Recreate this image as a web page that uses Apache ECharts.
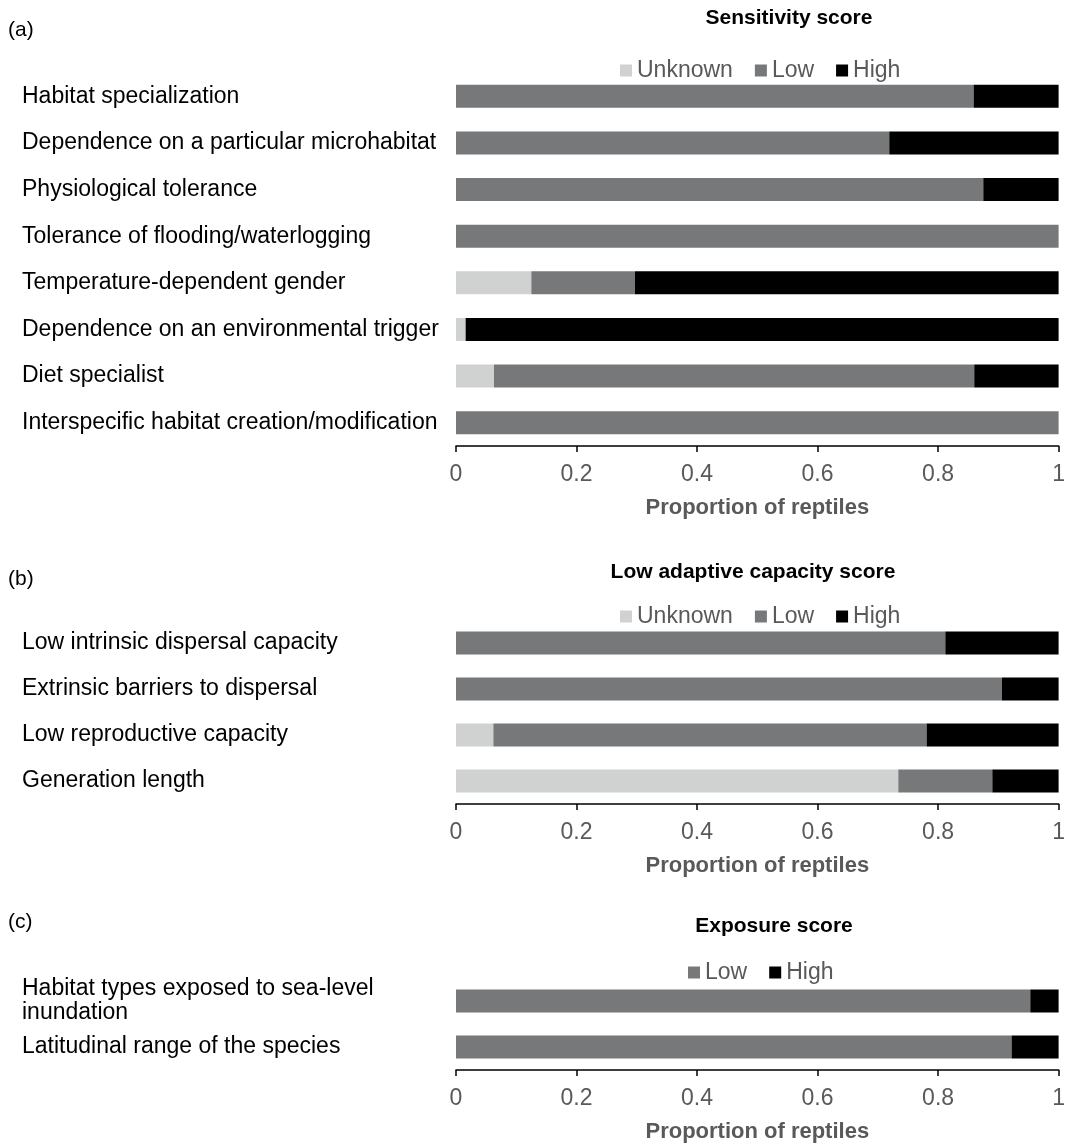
<!DOCTYPE html>
<html>
	<head>
		<meta charset="utf-8">
		<title>Reptile scores</title>
		<script src="https://cdn.jsdelivr.net/npm/echarts@6/dist/echarts.min.js"></script>
		<style>
			body { margin: 0; background: #fff; }
		</style>
	</head>
	<body>
		<div id="box" style="width: 1068px;height: 1146px;"></div>
		<script>
			// (a) Sensitivity
			var catA = ['Habitat specialization', 'Dependence on a particular microhabitat', 'Physiological tolerance',
				'Tolerance of flooding/waterlogging', 'Temperature-dependent gender', 'Dependence on an environmental trigger',
				'Diet specialist', 'Interspecific habitat creation/modification']
			var unknownA = [0, 0, 0, 0, 0.125, 0.016, 0.063, 0]
			var lowA = [0.859, 0.719, 0.875, 1, 0.172, 0, 0.797, 1]
			var highA = [0.141, 0.281, 0.125, 0, 0.703, 0.984, 0.14, 0]

			// (b) Low adaptive capacity
			var catB = ['Low intrinsic dispersal capacity', 'Extrinsic barriers to dispersal', 'Low reproductive capacity', 'Generation length']
			var unknownB = [0, 0, 0.062, 0.734]
			var lowB = [0.812, 0.906, 0.719, 0.156]
			var highB = [0.188, 0.094, 0.219, 0.11]

			// (c) Exposure
			var catC = ['Habitat types exposed to sea-level\ninundation', 'Latitudinal range of the species']
			var lowC = [0.953, 0.922]
			var highC = [0.047, 0.078]

			var xTicks = [0, 0.2, 0.4, 0.6, 0.8, 1]

			var font = "'Liberation Sans', Arial, sans-serif"
			var colUnknown = '#d0d1d1'
			var colLow = '#76787a'
			var colHigh = '#000000'

			var mCharts = echarts.init(document.querySelector('#box'))

			function xAx(i) {
				return {
					gridIndex: i, type: 'value', min: xTicks[0], max: xTicks[xTicks.length - 1], interval: xTicks[1] - xTicks[0],
					name: 'Proportion of reptiles', nameLocation: 'middle', nameGap: 51,
					nameTextStyle: { fontSize: 22, fontWeight: 'bold', color: '#595959', fontFamily: font },
					axisLine: { show: true, lineStyle: { color: '#000', width: 1.5 } },
					axisTick: { show: true, length: 6, lineStyle: { color: '#000', width: 1.5 } },
					axisLabel: { fontSize: 23, color: '#595959', margin: 17, fontFamily: font },
					splitLine: { show: false }
				}
			}
			function yAx(i, cats) {
				return {
					gridIndex: i, type: 'category', data: cats, inverse: true,
					axisLine: { show: false }, axisTick: { show: false },
					axisLabel: { align: 'left', margin: 434, fontSize: 23, color: '#000', lineHeight: 24, fontFamily: font }
				}
			}
			function bar(name, data, i, color) {
				return {
					name: name, type: 'bar', stack: 'p' + i, xAxisIndex: i, yAxisIndex: i,
					data: data, barWidth: 23, itemStyle: { color: color }
				}
			}
			function legend(top, left, names) {
				return {
					top: top, left: left, padding: 0, itemGap: 22, itemWidth: 12, itemHeight: 12, icon: 'rect',
					data: names, selectedMode: false,
					textStyle: { fontSize: 23, color: '#595959', fontFamily: font }
				}
			}
			function title(text, left, top, bold, align) {
				return {
					text: text, left: left, top: top, padding: 0, textAlign: align,
					textStyle: { fontSize: 21, fontWeight: bold ? 'bold' : 'normal', color: '#000', fontFamily: font }
				}
			}

			var option = {
				animation: false,
				backgroundColor: '#fff',
				title: [
					title('(a)', 8, 20, false, 'left'),
					title('Sensitivity score', 789, 8, true, 'center'),
					title('(b)', 8, 569, false, 'left'),
					title('Low adaptive capacity score', 753, 562, true, 'center'),
					title('(c)', 8, 912, false, 'left'),
					title('Exposure score', 774, 916, true, 'center')
				],
				legend: [
					legend(59, 620, ['Unknown', 'Low', 'High']),
					legend(605, 620, ['Unknown', 'Low', 'High']),
					legend(961, 688, ['Low', 'High'])
				],
				grid: [
					{ left: 456, width: 606, top: 73, height: 373 },
					{ left: 456, width: 606, top: 620, height: 184 },
					{ left: 456, width: 606, top: 978, height: 92 }
				],
				xAxis: [xAx(0), xAx(1), xAx(2)],
				yAxis: [yAx(0, catA), yAx(1, catB), yAx(2, catC)],
				series: [
					bar('Unknown', unknownA, 0, colUnknown),
					bar('Low', lowA, 0, colLow),
					bar('High', highA, 0, colHigh),
					bar('Unknown', unknownB, 1, colUnknown),
					bar('Low', lowB, 1, colLow),
					bar('High', highB, 1, colHigh),
					bar('Low', lowC, 2, colLow),
					bar('High', highC, 2, colHigh)
				]
			}
			mCharts.setOption(option)
		</script>
	</body>
</html>
